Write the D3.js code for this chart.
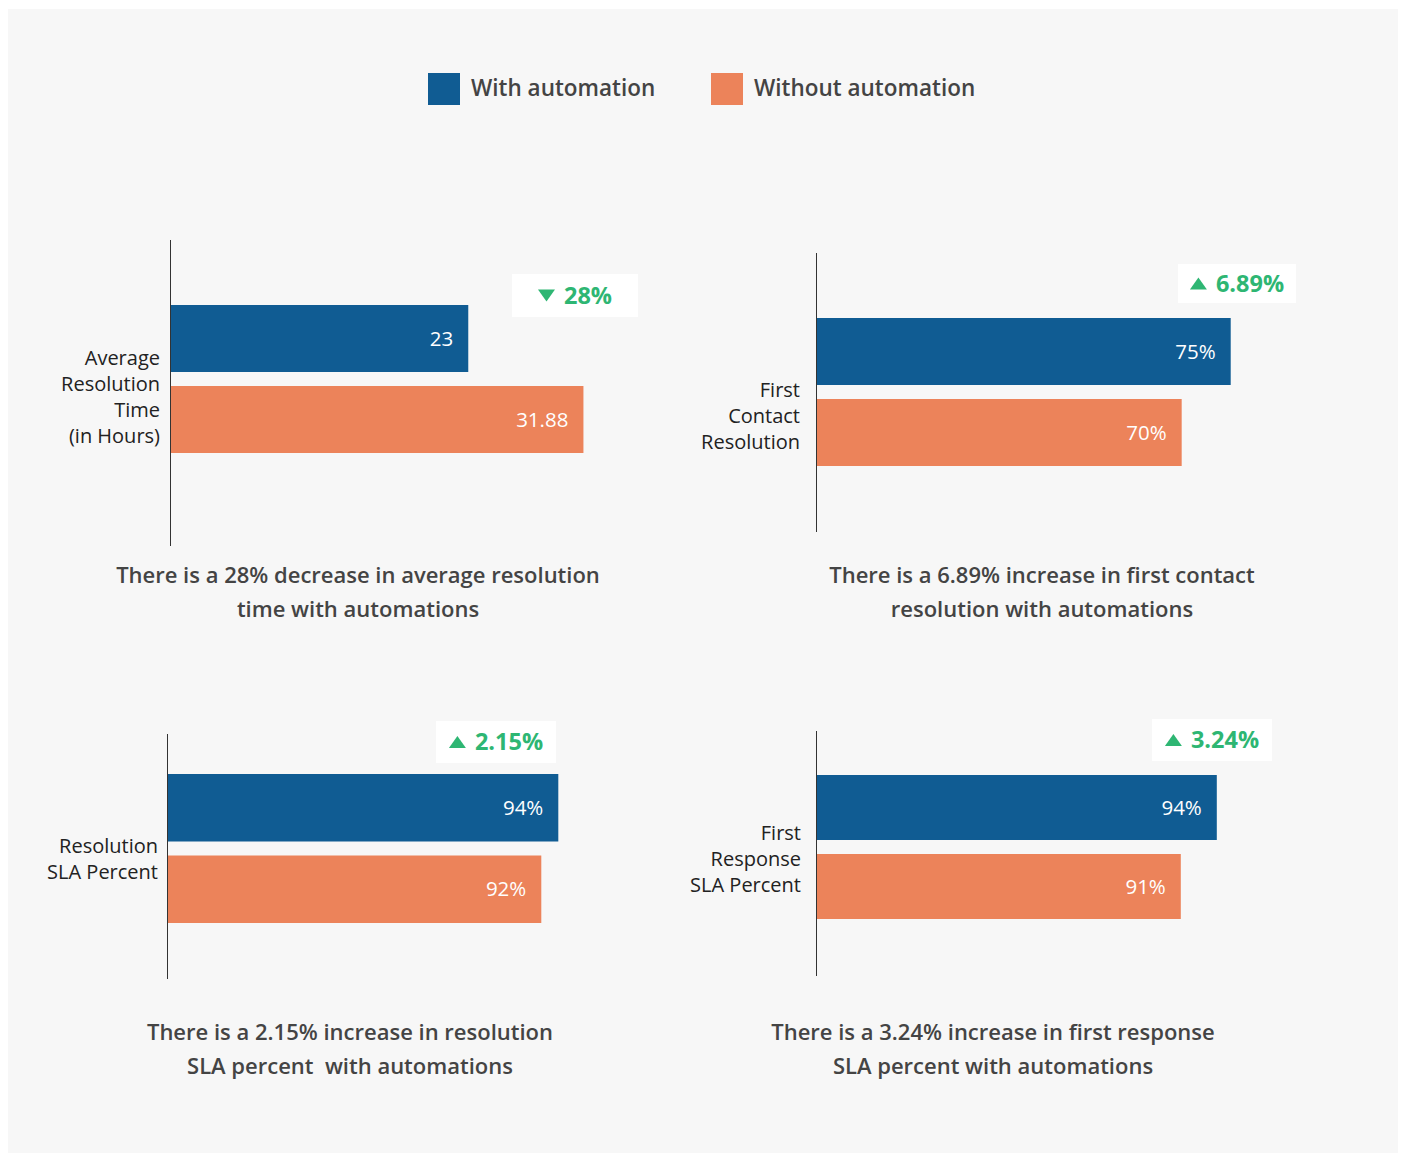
<!DOCTYPE html>
<html>
<head>
<meta charset="utf-8">
<script src="https://cdn.jsdelivr.net/npm/d3@7"></script>
<style>
  body { margin: 0; background: #fff; }
  text { font-family: "Open Sans", "Noto Sans", sans-serif; white-space: pre; }
</style>
</head>
<body>
<svg id="chart" width="1402" height="1153"></svg>
<script>
// data
const series = ["With automation", "Without automation"];
const metricLabels = [
    ["Average", "Resolution", "Time", "(in Hours)"],
    ["First", "Contact", "Resolution"],
    ["Resolution", "SLA Percent"],
    ["First", "Response", "SLA Percent"]
];
const withAutomation = [23, 75, 94, 94];
const withoutAutomation = [31.88, 70, 92, 91];
const valueSuffix = ["", "%", "%", "%"];
const changePct = [-28, 6.89, 2.15, 3.24];
const captions = [
    ["There is a 28% decrease in average resolution", "time with automations"],
    ["There is a 6.89% increase in first contact", "resolution with automations"],
    ["There is a 2.15% increase in resolution", "SLA percent  with automations"],
    ["There is a 3.24% increase in first response", "SLA percent with automations"]
];
// where each value axis starts / ends
const xDomains = [[0, 34.7], [32.7, 78.6], [48, 100.9], [60.6, 98.1]];

// layout of the four panels
const panels = [
    {ax: 170, axTop: 240, axBot: 546, barTop: 305, barBot: 453, labX: 160, labY: 397,
     badge: [512, 274, 126, 43], capX: 358, capY: 575},
    {ax: 816, axTop: 253, axBot: 532, barTop: 318, barBot: 466, labX: 800, labY: 416,
     badge: [1178, 264, 118, 39], capX: 1042, capY: 575},
    {ax: 167, axTop: 734, axBot: 979, barTop: 774, barBot: 923, labX: 158, labY: 859,
     badge: [436, 721, 120, 42], capX: 350, capY: 1032},
    {ax: 816, axTop: 731, axBot: 976, barTop: 775, barBot: 919, labX: 801, labY: 859,
     badge: [1152, 719, 120, 42], capX: 993, capY: 1032}
];

const barWidth = 450;
const color = d3.scaleOrdinal().domain(series).range(["#105c93", "#ec835a"]);
const green = "#2eb673";

const svg = d3.select("#chart");

svg.append("rect")
    .attr("x", 8).attr("y", 9)
    .attr("width", 1390).attr("height", 1144)
    .attr("fill", "#f7f7f7");

// legend
const legend = svg.append("g");
const legendX = [428, 711];
series.forEach((s, i) => {
    legend.append("rect")
        .attr("x", legendX[i]).attr("y", 73)
        .attr("width", 32).attr("height", 32)
        .attr("fill", color(s));
    legend.append("text")
        .attr("x", legendX[i] + 43).attr("y", 88)
        .attr("dy", "0.35em")
        .attr("font-size", 22.5)
        .attr("font-weight", 600)
        .attr("fill", "#444")
        .text(s);
});

panels.forEach((p, i) => {
    const g = svg.append("g");

    const x = d3.scaleLinear().domain(xDomains[i]).range([0, barWidth]);
    const y = d3.scaleBand().domain(series)
        .range([p.barTop, p.barBot])
        .paddingInner(14 / ((p.barBot - p.barTop + 14) / 2));

    const vals = [withAutomation[i], withoutAutomation[i]];
    const rows = series.map((s, j) => ({key: s, value: vals[j]}));

    g.selectAll("rect.bar")
        .data(rows)
        .enter()
        .append("rect")
        .attr("class", "bar")
        .attr("x", p.ax)
        .attr("y", d => y(d.key))
        .attr("width", d => x(d.value))
        .attr("height", y.bandwidth())
        .attr("fill", d => color(d.key));

    g.selectAll("text.val")
        .data(rows)
        .enter()
        .append("text")
        .attr("class", "val")
        .attr("x", d => p.ax + x(d.value) - 15)
        .attr("y", d => y(d.key) + y.bandwidth() / 2)
        .attr("dy", "0.35em")
        .attr("text-anchor", "end")
        .attr("font-size", 20.5)
        .attr("fill", "#fff")
        .text(d => d.value + valueSuffix[i]);

    // axis line
    g.append("line")
        .attr("x1", p.ax + 0.5).attr("x2", p.ax + 0.5)
        .attr("y1", p.axTop).attr("y2", p.axBot)
        .attr("stroke", "#333").attr("stroke-width", 1);

    // category label
    const lines = metricLabels[i];
    const lh = 26;
    g.append("text")
        .attr("text-anchor", "end")
        .attr("font-size", 20)
        .attr("fill", "#222")
        .selectAll("tspan")
        .data(lines)
        .enter()
        .append("tspan")
        .attr("x", p.labX)
        .attr("y", (d, k) => p.labY + (k - (lines.length - 1) / 2) * lh)
        .attr("dy", "0.35em")
        .text(d => d);

    // change badge, content centred in the white box
    const [bx, by, bw, bh] = p.badge;
    g.append("rect")
        .attr("x", bx).attr("y", by)
        .attr("width", bw).attr("height", bh)
        .attr("fill", "#fff");
    const cy = by + bh / 2;
    const up = changePct[i] > 0;
    const badge = g.append("g");
    const tri = up
        ? [[0, cy + 6], [17, cy + 6], [8.5, cy - 6]]
        : [[0, cy - 6], [17, cy - 6], [8.5, cy + 6]];
    badge.append("path")
        .attr("d", d3.line()(tri) + "Z")
        .attr("fill", green);
    const t = badge.append("text")
        .attr("x", 26).attr("y", cy)
        .attr("dy", "0.35em")
        .attr("font-size", 23.5)
        .attr("font-weight", 700)
        .attr("fill", green)
        .text(Math.abs(changePct[i]) + "%");
    const cw = 26 + t.node().getComputedTextLength();
    badge.attr("transform", "translate(" + (bx + (bw - cw) / 2) + ",0)");

    // caption
    g.append("text")
        .attr("text-anchor", "middle")
        .attr("font-size", 22)
        .attr("font-weight", 600)
        .attr("fill", "#444")
        .selectAll("tspan")
        .data(captions[i])
        .enter()
        .append("tspan")
        .attr("x", p.capX)
        .attr("y", (d, k) => p.capY + k * 34.5)
        .attr("dy", "0.35em")
        .text(d => d);
});
</script>
</body>
</html>
